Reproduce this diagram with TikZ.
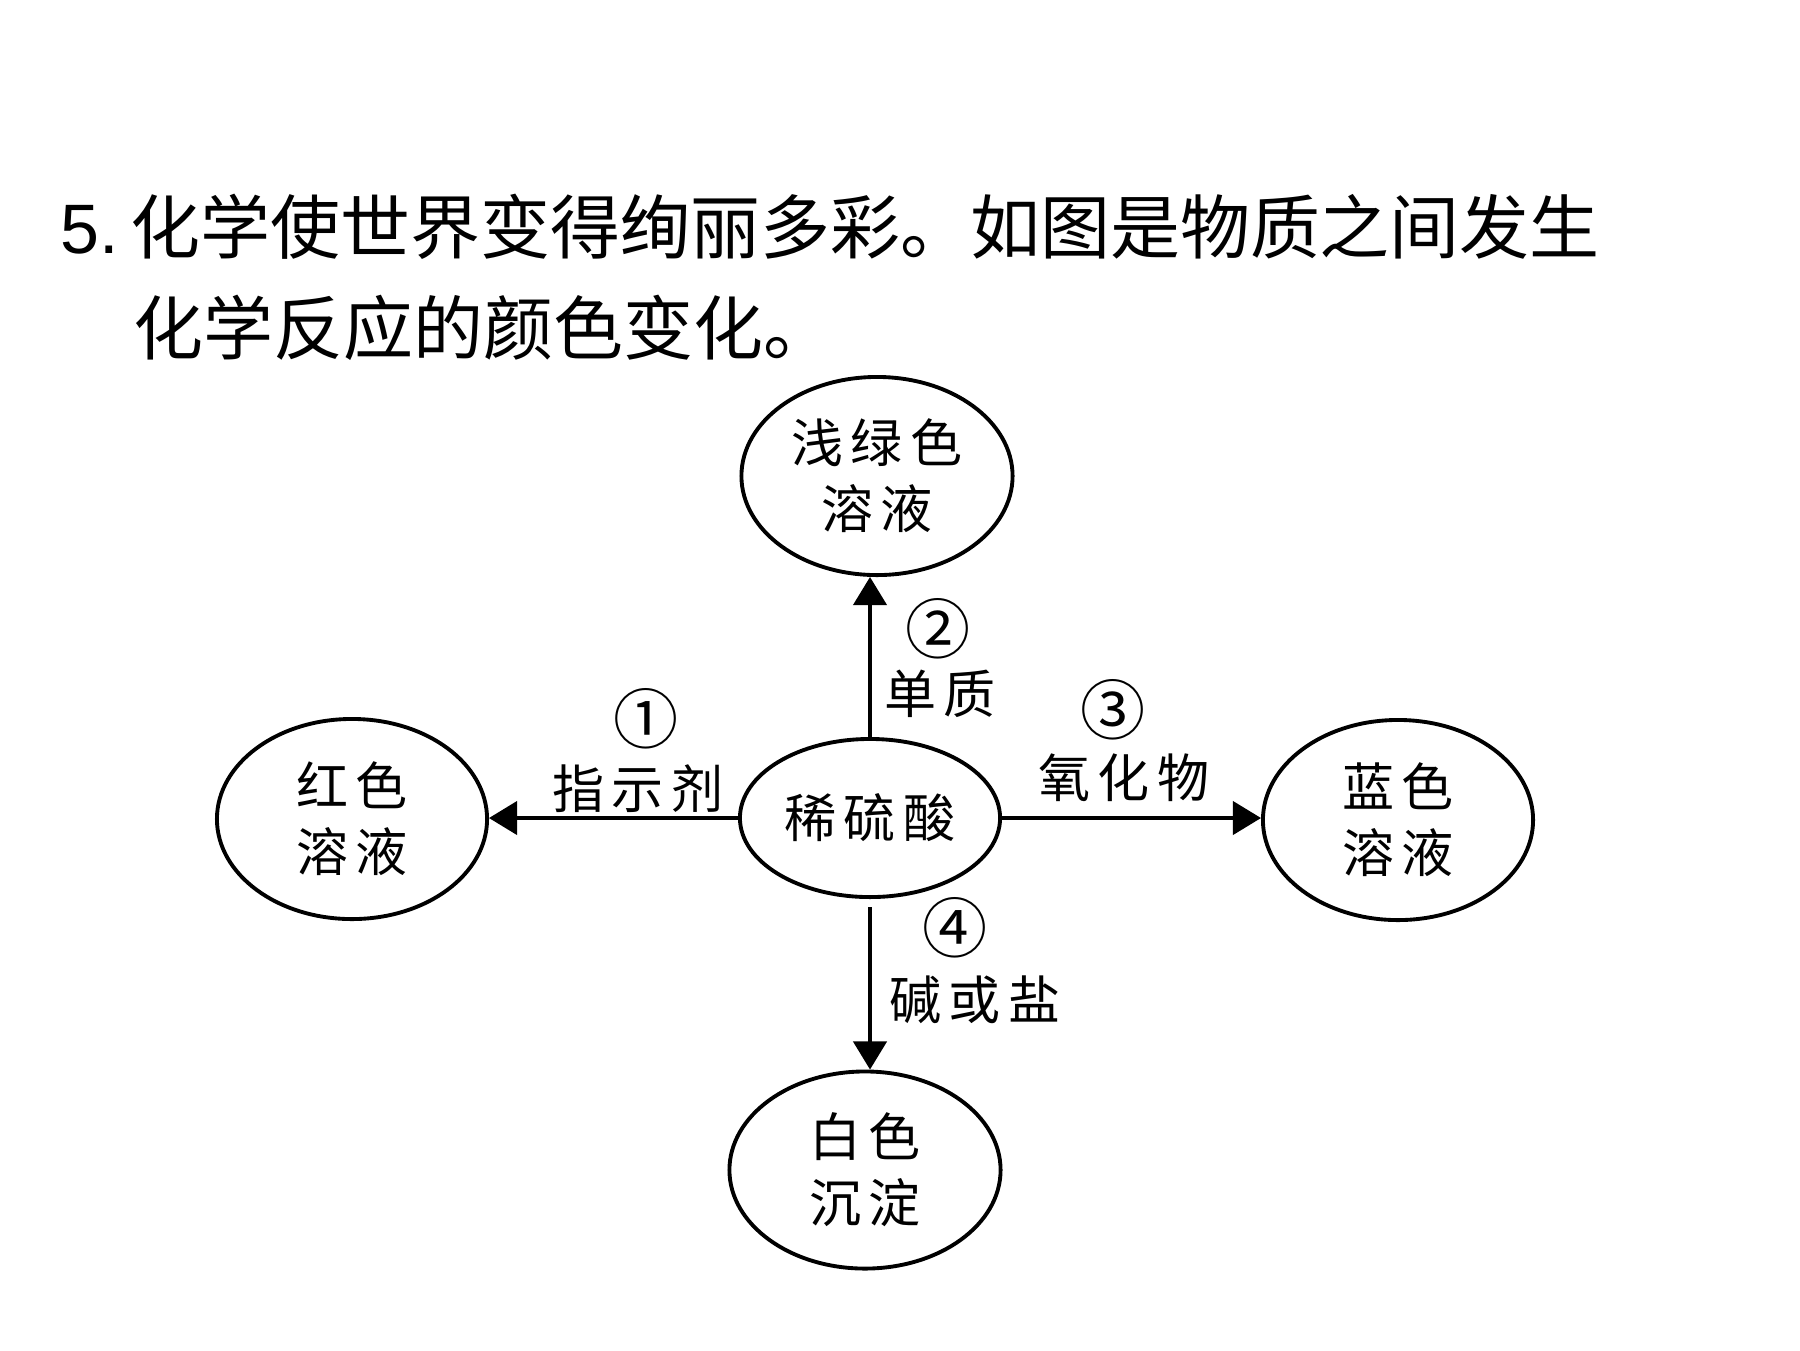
\documentclass[tikz,border=0pt]{standalone}
\usepackage{fontspec}
\setmainfont{Liberation Sans}
\newfontfamily\cjk{Noto Sans CJK SC}
\newfontfamily\cjkl[LetterSpace=15]{Noto Sans CJK SC}
\usetikzlibrary{arrows.meta,shapes.geometric}

\begin{document}
\begin{tikzpicture}[x=0.01cm, y=-0.01cm,
		blob/.style={draw, ellipse, line width=1.1pt, inner sep=0pt, align=center, font=\cjkl\fontsize{14.8pt}{18.8pt}\selectfont},
		link/.style={line width=0.9pt, -{Triangle[length=8pt,width=9.5pt]}},
		tag/.style={inner sep=0pt, font=\cjkl\fontsize{14.8pt}{18.8pt}\selectfont},
		num/.style={inner sep=0pt, font=\cjk\fontsize{18.5pt}{18.5pt}\selectfont}]
			%%%%% START %%%%%
			
			\useasboundingbox (0, 0) rectangle (1800, 1350);
			
			\node[anchor=base west, inner sep=0pt, font=\fontsize{19.9pt}{24pt}\selectfont] (line1) at (60, 253) {5.\hspace{3.2pt}{\cjk 化学使世界变得绚丽多彩。如图是物质之间发生}};
			\node[anchor=base west, inner sep=0pt, font=\cjk\fontsize{19.9pt}{24pt}\selectfont] (line2) at (133, 354) {化学反应的颜色变化。};
			
			\node[blob, minimum width=2.6cm, minimum height=1.58cm] (acid) at (870, 818) {稀硫酸};
			\node[blob, minimum width=2.71cm, minimum height=1.98cm] (green) at (877, 476) {浅绿色\\溶液};
			\node[blob, minimum width=2.7cm, minimum height=2cm] (red) at (352, 819) {红色\\溶液};
			\node[blob, minimum width=2.7cm, minimum height=2cm] (blue) at (1398, 820) {蓝色\\溶液};
			\node[blob, minimum width=2.71cm, minimum height=1.97cm] (white) at (865, 1170) {白色\\沉淀};
			
			\draw[link] (acid.west) -- (acid.west -| red.east);
			\draw[link] (acid.north) -- (acid.north |- green.south);
			\draw[link] (acid.east) -- (acid.east -| blue.west);
			\draw[link, shorten <=2.3pt] (acid.south) -- (acid.south |- white.north);
			
			\node[num] (n1) at (646, 719) {①};
			\node[tag] (t1) at (638, 789) {指示剂};
			\node[num] (n2) at (938, 629) {②};
			\node[tag] (t2) at (940, 694) {单质};
			\node[num] (n3) at (1113, 710) {③};
			\node[tag] (t3) at (1124, 778) {氧化物};
			\node[num] (n4) at (955, 928) {④};
			\node[tag] (t4) at (975, 1000) {碱或盐};
			
			%%%%% END %%%%%
		\end{tikzpicture}
\end{document}
